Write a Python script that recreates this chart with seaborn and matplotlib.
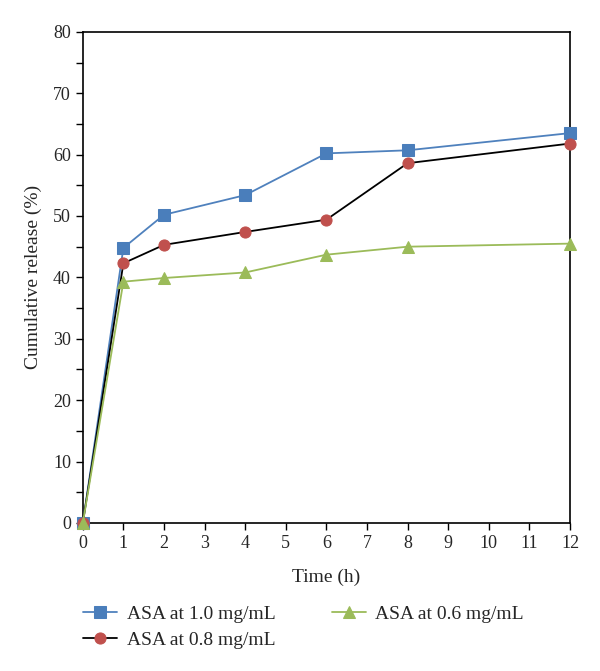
import matplotlib
matplotlib.use('Agg')
import matplotlib.pyplot as plt
import seaborn as sns
import pandas as pd
from matplotlib.ticker import MultipleLocator

# data
time_h = [0, 1, 2, 4, 6, 8, 12]
asa_10 = [0, 44.8, 50.2, 53.4, 60.2, 60.7, 63.5]
asa_08 = [0, 42.3, 45.3, 47.4, 49.4, 58.6, 61.8]
asa_06 = [0, 39.3, 39.9, 40.8, 43.7, 45.0, 45.5]
labels = ['ASA at 1.0 mg/mL', 'ASA at 0.8 mg/mL', 'ASA at 0.6 mg/mL']

df = pd.DataFrame({'time': time_h * 3,
                   'release': asa_10 + asa_08 + asa_06,
                   'series': [labels[0]] * 7 + [labels[1]] * 7 + [labels[2]] * 7})

sns.set_style('white')
plt.rcParams['font.family'] = ['Liberation Serif', 'DejaVu Serif']

fig = plt.figure(figsize=(6, 6.71), dpi=100, facecolor='white')
ax = fig.add_axes([0.138, 0.2206, 0.812, 0.732])

line_colors = {labels[0]: '#4f81bd', labels[1]: '#000000', labels[2]: '#9bbb59'}
marker_colors = ['#4a7ebb', '#c0504d', '#9bbb59']
markers = ['s', 'o', '^']

for lab, mk, mc in zip(labels, markers, marker_colors):
    sub = df[df['series'] == lab]
    sns.lineplot(data=sub, x='time', y='release', ax=ax, color=line_colors[lab],
                 marker=mk, markersize=8, markerfacecolor=mc, markeredgecolor=mc,
                 linewidth=1.3, label=lab, clip_on=False, zorder=3)

ax.set_xlim(0, 12)
ax.set_ylim(0, 80)
ax.xaxis.set_major_locator(MultipleLocator(1))
ax.yaxis.set_major_locator(MultipleLocator(10))
ax.yaxis.set_minor_locator(MultipleLocator(5))
ax.tick_params(axis='both', which='both', direction='out', length=5, width=1,
               labelsize=13, color='black', bottom=True, left=True)
ax.tick_params(axis='y', which='minor', length=5)
for s in ax.spines.values():
    s.set_color('black')
    s.set_linewidth(1.2)

ax.set_xlabel('Time (h)', fontsize=14, labelpad=12)
ax.set_ylabel('Cumulative release (%)', fontsize=14, labelpad=8)

ax.legend(loc='upper left', bbox_to_anchor=(0.138, 0.098), bbox_transform=fig.transFigure,
          ncol=2, frameon=False, borderpad=0, borderaxespad=0,
          fontsize=14, handlelength=1.75, columnspacing=2.9, labelspacing=0.45,
          handletextpad=0.5)

plt.savefig('out.png', dpi=100, facecolor='white')
